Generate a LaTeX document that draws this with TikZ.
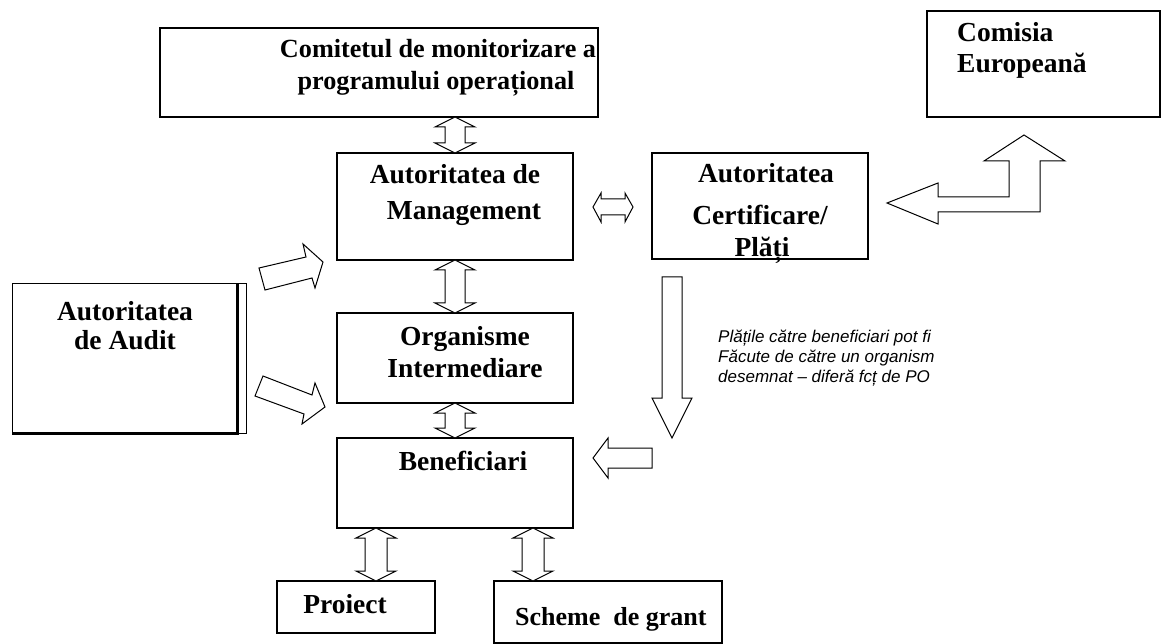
\documentclass[tikz,border=0pt]{standalone}
\usepackage{fontspec}
\setmainfont{Liberation Serif}
\newfontfamily\itsans{Liberation Sans}
\usetikzlibrary{calc}
\tikzset{
  box/.style={draw, line width=1.2pt, inner sep=0pt, outer sep=0pt, anchor=north west},
  lbl/.style={font=\fontsize{27.5}{31}\selectfont\bfseries, inner sep=0pt, anchor=base},
  lbltop/.style={font=\fontsize{26.2}{30}\selectfont\bfseries, inner sep=0pt, anchor=base},
  lblw/.style={font=\fontsize{27.5}{31}\selectfont\bfseries, inner sep=0pt, anchor=base west},
  note/.style={font=\itsans\itshape\fontsize{17}{20}\selectfont, inner sep=0pt, anchor=base west},
  blk/.style={draw, line width=1pt, fill=white, line join=miter}
}
% vertical double block arrow at x=#1 between anchors #2 (top) and #3 (bottom); #4 shaft half width
\newcommand\vdbl[4]{\draw[blk] let \p1=(#2), \p2=(#3) in
  (#1pt,\y1) -- (#1pt+20pt,\y1-10pt) -- (#1pt+#4pt,\y1-10pt) -- (#1pt+#4pt,\y2+10pt) -- (#1pt+20pt,\y2+10pt)
  -- (#1pt,\y2) -- (#1pt-20pt,\y2+10pt) -- (#1pt-#4pt,\y2+10pt) -- (#1pt-#4pt,\y1-10pt) -- (#1pt-20pt,\y1-10pt) -- cycle;}
\begin{document}
\begin{tikzpicture}[x=1pt,y=-1pt]
\useasboundingbox (0,0) rectangle (1162,644);
% boxes
\node[box, minimum width=438pt, minimum height=89pt] (cm) at (160,28) {};
\node[box, minimum width=233pt, minimum height=106pt] (ce) at (927,11) {};
\node[box, minimum width=236pt, minimum height=107pt] (am) at (337,153) {};
\node[box, minimum width=216pt, minimum height=106pt] (ac) at (652,153) {};
\node[box, minimum width=236pt, minimum height=90pt] (oi) at (337,313) {};
\node[box, minimum width=236pt, minimum height=90pt] (be) at (337,438) {};
\node[box, minimum width=158pt, minimum height=52pt] (pr) at (277,581) {};
\node[box, minimum width=228pt, minimum height=62pt] (sg) at (494,581) {};
\node[box, line width=1pt, minimum width=234pt, minimum height=149pt] (aa) at (12,284) {};
\draw[line width=3pt] (237,284) -- (237,433.5);
\draw[line width=3pt] (12,433) -- (238.5,433);

% labels
\node[lbltop] (t1) at (438,58) {Comitetul de monitorizare a};
\node[lbltop] (t2) at (436,90) {programului operațional};
\node[lblw] (t3) at (957,42) {Comisia};
\node[lblw] (t4) at (957,73) {Europeană};
\node[lbl] (t5) at (455,184) {Autoritatea de};
\node[lbl] (t6) at (464,220) {Management};
\node[lbl] (t7) at (766,183) {Autoritatea};
\node[lbl] (t8) at (760,225) {Certificare/};
\node[lbl] (t9) at (762,257) {Plăți};
\node[lbl] (t10) at (125,320) {Autoritatea};
\node[lbl] (t11) at (125,349) {de Audit};
\node[lbl] (t12) at (465,345) {Organisme};
\node[lbl] (t13) at (465,377) {Intermediare};
\node[lbl] (t14) at (463,470) {Beneficiari};
\node[lbl] (t15) at (345,613) {Proiect};
\node[lblw, font=\fontsize{26}{30}\selectfont\bfseries] (t16) at (515,625) {Scheme\ \ de grant};
\node[note] (n1) at (718,342) {Plățile către beneficiari pot fi};
\node[note] (n2) at (718,362) {Făcute de către un organism};
\node[note] (n3) at (718,382) {desemnat – diferă fcț de PO};

% vertical double arrows
\vdbl{455}{cm.south}{am.north}{10}
\vdbl{455}{am.south}{oi.north}{10}
\vdbl{455}{oi.south}{be.north}{10}
\vdbl{376}{be.south}{pr.north}{11}
\vdbl{533}{be.south}{sg.north}{11}

% horizontal double arrow AM <-> AC
\draw[blk] (593,207) -- (601,193) -- (601,199) -- (625,199) -- (625,193) -- (633,207)
  -- (625,222) -- (625,215) -- (601,215) -- (601,222) -- cycle;

% bent arrow from Comisia to AC
\draw[blk] (887,203) -- (938,183) -- (938,197) -- (1009,197) -- (1009,161) -- (984,161) -- (1024,135)
  -- (1065,161) -- (1040,161) -- (1040,212) -- (938,212) -- (938,224) -- cycle;

% down arrow (payments)
\draw[blk] (662,277) -- (682,277) -- (682,398) -- (692,398) -- (672,438) -- (652,398) -- (662,398) -- cycle;

% left arrow into Beneficiari
\draw[blk] (593,458) -- (608,438) -- (608,448) -- (652,448) -- (652,468) -- (608,468) -- (608,478) -- cycle;

% audit arrows
\draw[blk] (259,268) -- (306,257) -- (303,244) -- (323,262) -- (315,288) -- (312,278) -- (265,290) -- cycle;
\draw[blk] (263,376) -- (312,395) -- (315,383) -- (325,407) -- (302,424) -- (304,414) -- (255,396) -- cycle;
\end{tikzpicture}
\end{document}
